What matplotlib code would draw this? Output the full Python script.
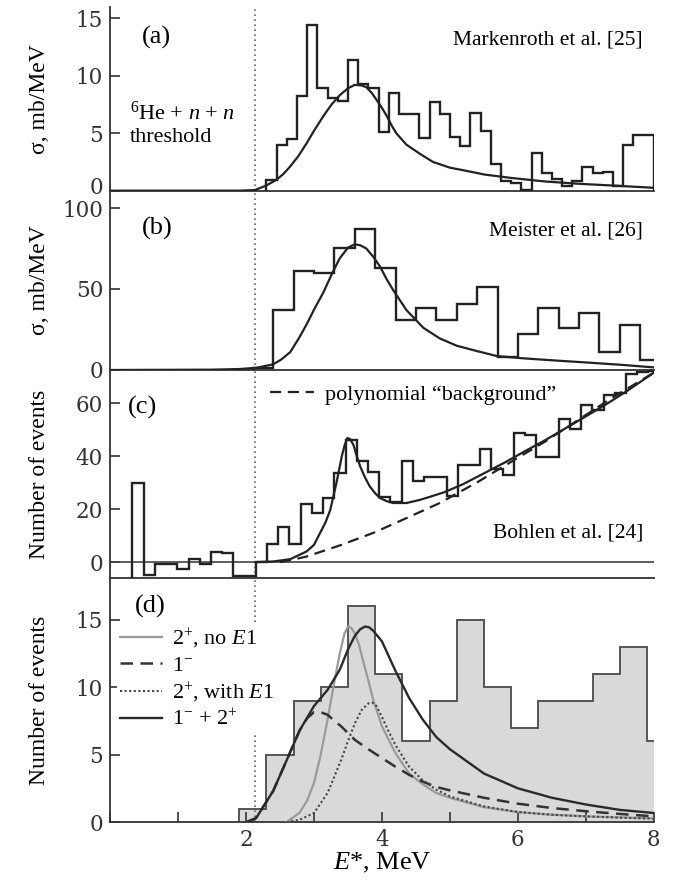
import numpy as np
import matplotlib.pyplot as plt
from matplotlib.transforms import ScaledTranslation

plt.rcParams['font.family'] = ['Liberation Serif', 'DejaVu Serif']
plt.rcParams['mathtext.fontset'] = 'custom'
plt.rcParams['mathtext.rm'] = 'Liberation Serif'
plt.rcParams['mathtext.it'] = 'Liberation Serif:italic'

E_THR = 2.14  # 6He + n + n threshold, MeV

# (a) Markenroth et al. -- 0.15 MeV bins from 2.3 MeV
a_edges = np.linspace(2.3, 8.0, 39)
a_hist = [0.9, 4.0, 4.5, 8.2, 14.4, 8.9, 8.1, 7.8, 11.4, 9.3, 8.9, 5.1, 8.5,
          6.7, 6.7, 4.6, 7.7, 6.7, 4.7, 3.9, 6.75, 5.2, 2.3, 0.8, 0.7, 0.1,
          3.3, 1.5, 1.0, 0.4, 0.8, 2.1, 1.5, 1.6, 0.4, 4.0, 4.8, 4.8]
a_fit_e = [0.0, 1.5, 1.9, 2.13, 2.3, 2.45, 2.55, 2.65, 2.77, 2.89, 3.0, 3.14,
           3.26, 3.38, 3.5, 3.6, 3.7, 3.77, 3.85, 3.92, 4.0, 4.07, 4.14, 4.21,
           4.36, 4.56, 4.75, 5.0, 5.22, 5.51, 5.91, 6.4, 6.89, 7.38, 8.0]
a_fit = [0.0, 0.0, 0.0, 0.05, 0.45, 0.95, 1.45, 2.1, 3.0, 4.1, 5.2, 6.5, 7.5,
         8.3, 8.9, 9.2, 9.15, 9.0, 8.5, 7.9, 7.2, 6.5, 5.7, 5.0, 4.0, 3.2,
         2.5, 2.0, 1.75, 1.4, 1.1, 0.8, 0.6, 0.45, 0.25]

# (b) Meister et al. -- 0.3 MeV bins from 2.1 MeV
b_edges = np.linspace(2.1, 8.1, 21)
b_hist = [1.0, 37, 61, 60, 75, 87, 63, 31, 38, 31, 41, 51, 8, 22, 38, 26, 35,
          11, 28, 6]
b_fit_e = [0.0, 1.5, 1.91, 2.16, 2.4, 2.52, 2.65, 2.77, 2.89, 3.01, 3.14,
           3.26, 3.38, 3.5, 3.6, 3.68, 3.77, 3.87, 3.97, 4.07, 4.17, 4.36,
           4.61, 4.85, 5.1, 5.34, 5.69, 6.08, 6.57, 7.06, 7.55, 8.0]
b_fit = [0.0, 0.2, 0.6, 1.4, 3.5, 6.5, 11, 19, 28, 38, 48, 59, 69, 75.5, 77.6,
         77, 75, 70, 64, 56, 49, 37, 26, 19.5, 15, 12.3, 8.6, 7.2, 5.8, 4.5,
         3.1, 1.6]

# (c) Bohlen et al. -- 0.165 MeV bins from 0.33 MeV
c_edges = np.linspace(0.33, 8.085, 48)
c_hist = [30, -4.8, -0.6, -0.6, -2.5, 1.3, -0.6, 4, 3.3, -5.1, -5.1,
          0, 6.9, 13.2, 6.9, 21.9, 18.7, 24.2, 33.6, 46, 38, 34, 24.5, 22.5,
          38, 30.5, 32, 32, 25, 36.7, 36.7, 42.8, 35, 33, 48.9, 48, 39.6, 39.6,
          54, 50.2, 59.4, 57.5, 63, 63.8, 71, 71.6, 72]
c_fit_e = [2.14, 2.4, 2.65, 2.89, 3.0, 3.09, 3.17, 3.24, 3.33, 3.41, 3.45,
           3.49, 3.53, 3.58, 3.63, 3.68, 3.75, 3.82, 3.9, 3.97, 4.07, 4.17,
           4.36, 4.56, 4.75, 4.93, 5.2, 5.5, 5.8, 6.1, 6.4, 6.7, 7.0, 7.3,
           7.6, 8.0]
c_fit = [0.0, 0.25, 1.1, 4.0, 6.5, 11, 15, 19.7, 29.8, 40, 44, 46.8, 46.5,
         44.3, 40, 36.1, 32, 28.6, 26, 24.2, 23, 22.3, 22.3, 23.5, 25, 26.5,
         29.5, 33.5, 37.5, 41.8, 46, 50.5, 55, 59.6, 64.5, 71.5]
c_bg_e = [2.5, 2.7, 2.89, 3.38, 3.87, 4.36, 4.85, 5.42, 5.91, 6.4, 6.89, 7.38,
          8.0]
c_bg = [0.0, 1.0, 2.1, 6.3, 11, 16.6, 22.3, 30.4, 38, 45.5, 53.7, 61.9, 71.5]

# (d) data and model components -- 0.4 MeV bins from 1.9 MeV
d_edges = np.linspace(1.9, 8.3, 17)
d_hist = [1, 5, 9, 10, 16, 11, 6, 9, 15, 10, 7, 9, 9, 11, 13, 6]

d_2p_e = [2.6, 2.79, 2.9, 3.0, 3.1, 3.2, 3.3, 3.38, 3.45, 3.5, 3.55, 3.6,
          3.66, 3.72, 3.8, 3.87, 4.0, 4.2, 4.4, 4.6, 4.8, 5.0, 5.5, 6.0, 6.5,
          7.0, 7.5, 8.0]
d_2p = [0.0, 0.7, 1.6, 2.9, 5.0, 7.6, 10.4, 12.5, 14.0, 14.5, 14.4, 14.0,
        13.2, 12.0, 10.5, 9.1, 7.1, 5.1, 3.6, 2.8, 2.15, 1.8, 1.1, 0.74, 0.54,
        0.42, 0.35, 0.27]
d_1m_e = [2.0, 2.15, 2.4, 2.6, 2.79, 2.9, 3.0, 3.1, 3.2, 3.4, 3.6, 3.8, 4.0,
          4.2, 4.4, 4.6, 4.8, 5.0, 5.5, 6.0, 6.5, 7.0, 7.5, 8.0]
d_1m = [0.0, 0.3, 2.3, 4.6, 6.8, 7.7, 8.15, 8.15, 7.95, 7.1, 6.1, 5.4, 4.75,
        4.1, 3.5, 3.0, 2.6, 2.35, 1.8, 1.36, 1.04, 0.8, 0.6, 0.42]
d_2pE1_e = [2.6, 2.79, 3.0, 3.2, 3.4, 3.5, 3.6, 3.7, 3.8, 3.86, 3.92, 4.0,
            4.1, 4.2, 4.4, 4.6, 4.8, 5.0, 5.5, 6.0, 6.5, 7.0, 7.5, 8.0]
d_2pE1 = [0.0, 0.17, 0.67, 2.15, 4.6, 6.0, 7.3, 8.3, 8.8, 8.85, 8.6, 7.8,
          6.7, 5.7, 4.1, 3.1, 2.4, 1.9, 1.16, 0.74, 0.54, 0.42, 0.32, 0.25]
d_sum_e = [2.05, 2.15, 2.4, 2.6, 2.79, 3.0, 3.2, 3.38, 3.5, 3.6, 3.68, 3.75,
           3.81, 3.87, 4.0, 4.2, 4.4, 4.6, 4.8, 5.0, 5.5, 6.0, 6.5, 7.0, 7.5,
           8.0]
d_sum = [0.0, 0.3, 2.3, 4.6, 6.8, 8.6, 9.8, 11.3, 12.8, 13.8, 14.3, 14.5,
         14.45, 14.2, 13.4, 11.2, 9.2, 7.6, 6.3, 5.4, 3.6, 2.5, 1.8, 1.3, 0.9,
         0.67]

INK = '#222222'
TICK_FONT = 'DejaVu Serif'

fig = plt.figure(figsize=(6.79, 8.86), dpi=100)
L, W = 0.162, 0.801
ax_a = fig.add_axes([L, 0.7848, W, 0.2077])
ax_b = fig.add_axes([L, 0.5824, W, 0.2024])
ax_c = fig.add_axes([L, 0.3476, W, 0.2348])
ax_d = fig.add_axes([L, 0.0722, W, 0.2754])

for ax in (ax_a, ax_b, ax_c, ax_d):
    ax.set_xlim(0, 8)
    for s in ('top', 'right'):
        ax.spines[s].set_visible(False)
    for s in ('left', 'bottom'):
        ax.spines[s].set_linewidth(1.3)
        ax.spines[s].set_color('#333333')
    ax.tick_params(direction='in', length=7, width=1.2, labelsize=15.5,
                   colors='#333333', pad=5)
    ax.axvline(E_THR, color='#666666', ls=(0, (1, 2)), lw=1.2, zorder=1)
    ax.patch.set_alpha(0)

for ax in (ax_a, ax_b, ax_c):
    ax.set_xticks([])

# (a)
ax_a.stairs(a_hist, a_edges, baseline=0, color=INK, lw=1.7, zorder=3)
ax_a.plot(a_fit_e, a_fit, color=INK, lw=1.6, zorder=4)
ax_a.set_ylim(0, 16)
ax_a.set_yticks([0, 5, 10, 15])
ax_a.text(0.086, 0.83, '(a)', transform=ax_a.transAxes, fontsize=19,
          ha='center', va='center')
ax_a.text(0.98, 0.82, 'Markenroth et al. [25]', transform=ax_a.transAxes,
          fontsize=15.5, ha='right', va='center')
ax_a.text(0.037, 0.42, r'$^6$He + $n$ + $n$', transform=ax_a.transAxes,
          fontsize=16, ha='left', va='center')
ax_a.text(0.037, 0.29, 'threshold', transform=ax_a.transAxes, fontsize=16,
          ha='left', va='center')
ax_a.set_ylabel('σ, mb/MeV', fontsize=17)

# (b)
ax_b.stairs(b_hist, b_edges, baseline=0, color=INK, lw=1.7, zorder=3)
ax_b.plot(b_fit_e, b_fit, color=INK, lw=1.6, zorder=4)
ax_b.set_ylim(0, 110.7)
ax_b.set_yticks([0, 50, 100])
ax_b.text(0.086, 0.79, '(b)', transform=ax_b.transAxes, fontsize=19,
          ha='center', va='center')
ax_b.text(0.98, 0.775, 'Meister et al. [26]', transform=ax_b.transAxes,
          fontsize=15.5, ha='right', va='center')
ax_b.set_ylabel('σ, mb/MeV', fontsize=17)

# (c)
ax_c.axhline(0, color='#444444', lw=1.2, zorder=2)
ax_c.stairs(c_hist, c_edges, baseline=-6, color=INK, lw=1.7, zorder=3)
ax_c.plot(c_fit_e, c_fit, color=INK, lw=1.6, zorder=4)
bg_line, = ax_c.plot(c_bg_e, c_bg, color=INK, lw=1.6, ls=(0, (5, 3)),
                     zorder=4, label='polynomial “background”')
ax_c.set_ylim(-6, 72.5)
ax_c.set_yticks([0, 20, 40, 60])
ax_c.legend(handles=[bg_line], loc='upper left',
            bbox_to_anchor=(0.257, 1.027), frameon=False, fontsize=16,
            handlelength=2.0, handletextpad=0.5)
ax_c.text(0.06, 0.82, '(c)', transform=ax_c.transAxes, fontsize=19,
          ha='center', va='center')
ax_c.text(0.98, 0.216, 'Bohlen et al. [24]', transform=ax_c.transAxes,
          fontsize=15.5, ha='right', va='center')
ax_c.set_ylabel('Number of events', fontsize=17)

# (d)
ax_d.stairs(d_hist, d_edges, baseline=0, fill=True, color='#d9d9d9',
            zorder=0.5)
ax_d.stairs(d_hist, d_edges, baseline=0, color='#555555', lw=1.4, zorder=0.6)
h1, = ax_d.plot(d_2p_e, d_2p, color='#9a9a9a', lw=1.6, zorder=4,
                label=r'2$^{+}$, no $E$1')
h2, = ax_d.plot(d_1m_e, d_1m, color='#333333', lw=1.8, ls=(0, (5, 3)),
                zorder=4, label=r'1$^{-}$')
h3, = ax_d.plot(d_2pE1_e, d_2pE1, color='#444444', lw=1.5, ls=(0, (1, 1.2)),
                zorder=4, label=r'2$^{+}$, with $E$1')
h4, = ax_d.plot(d_sum_e, d_sum, color='#2a2a2a', lw=1.7, zorder=5,
                label=r'1$^{-}$ + 2$^{+}$')
ax_d.set_ylim(0, 18.1)
ax_d.set_yticks([0, 5, 10, 15])
ax_d.set_xticks(range(0, 9))
ax_d.set_xticklabels(['', '', '2', '', '4', '', '6', '', '8'])
leg = ax_d.legend(handles=[h1, h2, h3, h4], loc='upper left',
                  bbox_to_anchor=(0.0, 0.842), fontsize=16, frameon=True,
                  facecolor='white', edgecolor='none', framealpha=1,
                  handlelength=1.9, handletextpad=0.45, labelspacing=0.21,
                  borderpad=0.15, borderaxespad=0.3)
leg.set_zorder(6)
ax_d.text(0.074, 0.885, '(d)', transform=ax_d.transAxes, fontsize=19,
          ha='center', va='center')
ax_d.set_ylabel('Number of events', fontsize=17)
ax_d.set_xlabel(r'$E$*, MeV', fontsize=19, labelpad=0)

for ax in (ax_a, ax_b, ax_c, ax_d):
    ax.yaxis.set_label_coords(-0.11, 0.5)
    for lab in ax.get_xticklabels() + ax.get_yticklabels():
        lab.set_fontfamily(TICK_FONT)

# lift the zero label of (a) so it clears the "100" of (b)
zero_a = ax_a.get_yticklabels()[0]
zero_a.set_transform(zero_a.get_transform()
                     + ScaledTranslation(0, 4 / 72, fig.dpi_scale_trans))

fig.savefig('out.png', dpi=100)
